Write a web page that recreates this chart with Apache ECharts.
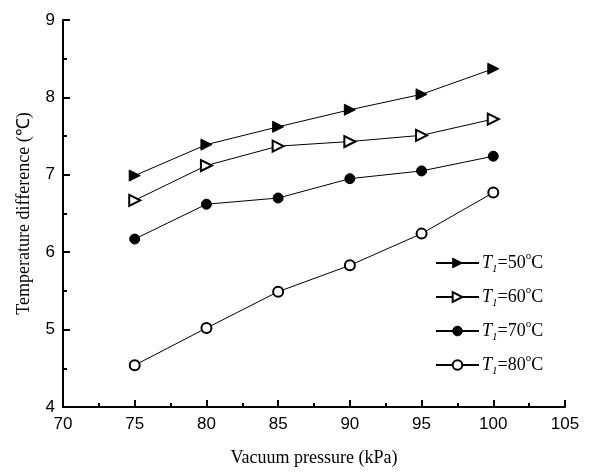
<!DOCTYPE html>
<html>
<head>
<meta charset="utf-8">
<script src="https://cdn.jsdelivr.net/npm/echarts@6/dist/echarts.min.js"></script>
<style>
  html, body { margin: 0; padding: 0; background: #fff; }
  #chart { width: 602px; height: 476px; }
</style>
</head>
<body>
<div id="chart"></div>
<script>
// 数据
var pressure = [75, 80, 85, 90, 95, 100];
var seriesNames = ['50', '60', '70', '80'];
var t50 = [6.99, 7.39, 7.62, 7.84, 8.04, 8.37];
var t60 = [6.67, 7.12, 7.37, 7.43, 7.51, 7.72];
var t70 = [6.17, 6.62, 6.70, 6.95, 7.05, 7.24];
var t80 = [4.54, 5.02, 5.49, 5.83, 6.24, 6.77];

var serif = '"Liberation Serif", "Times New Roman", serif';
var sans = '"Liberation Sans", Arial, sans-serif';

function pairs(ys) {
    return pressure.map(function (x, i) { return [x, ys[i]]; });
}

function makeSeries(name, ys, symbol, size, rotate) {
    return {
        name: name,
        type: 'line',
        data: pairs(ys),
        symbol: symbol,
        symbolSize: size,
        symbolRotate: rotate,
        showAllSymbol: true,
        color: '#000',
        itemStyle: { color: '#000', borderColor: '#000', borderWidth: 1 },
        lineStyle: { color: '#000', width: 1 },
        emphasis: { disabled: true }
    };
}

var dom = echarts.init(document.getElementById('chart'));
var option = {
    backgroundColor: '#fff',
    animation: false,
    grid: { left: 63, right: 37, top: 20, bottom: 69, containLabel: false },
    legend: {
        orient: 'vertical',
        left: 435,
        top: 251,
        padding: 0,
        itemWidth: 43,
        itemHeight: 12,
        itemGap: 10,
        itemStyle: { borderWidth: 1 },
        formatter: function (name) {
            return '{i|T}{s|1}{n|=' + name + '}{p|o}{n|C}';
        },
        textStyle: {
            color: '#000',
            padding: [0, 0, 0, -2],
            rich: {
                i: { fontFamily: serif, fontSize: 18, fontStyle: 'italic', lineHeight: 24, color: '#000' },
                s: { fontFamily: serif, fontSize: 11, fontStyle: 'italic', lineHeight: 24, verticalAlign: 'bottom', color: '#000' },
                n: { fontFamily: serif, fontSize: 18, lineHeight: 24, color: '#000' },
                p: { fontFamily: serif, fontSize: 11, lineHeight: 24, verticalAlign: 'top', color: '#000' }
            }
        },
        data: seriesNames
    },
    xAxis: {
        type: 'value',
        min: 70,
        max: 105,
        interval: 5,
        name: 'Vacuum pressure (kPa)',
        nameLocation: 'middle',
        nameGap: 42,
        nameTextStyle: { fontFamily: serif, fontSize: 18, color: '#000' },
        axisLine: { show: true, lineStyle: { color: '#000', width: 2 } },
        axisTick: { show: true, inside: true, length: 7, lineStyle: { color: '#000', width: 2 } },
        minorTick: { show: true, splitNumber: 2, length: 4, lineStyle: { color: '#000', width: 2 } },
        axisLabel: { fontFamily: sans, fontSize: 17, color: '#000', margin: 9 },
        splitLine: { show: false }
    },
    yAxis: {
        type: 'value',
        min: 4,
        max: 9,
        interval: 1,
        name: 'Temperature difference (℃)',
        nameLocation: 'middle',
        nameGap: 30,
        nameTextStyle: { fontFamily: serif, fontSize: 18, color: '#000' },
        axisLine: { show: true, lineStyle: { color: '#000', width: 2 } },
        axisTick: { show: true, inside: true, length: 7, lineStyle: { color: '#000', width: 2 } },
        minorTick: { show: true, splitNumber: 2, length: 4, lineStyle: { color: '#000', width: 2 } },
        axisLabel: { fontFamily: sans, fontSize: 17, color: '#000', margin: 8 },
        splitLine: { show: false }
    },
    series: [
        makeSeries('50', t50, 'triangle', 11, -90),
        makeSeries('60', t60, 'emptyTriangle', 11, -90),
        makeSeries('70', t70, 'circle', 10, 0),
        makeSeries('80', t80, 'emptyCircle', 10, 0)
    ]
};
dom.setOption(option);
</script>
</body>
</html>
